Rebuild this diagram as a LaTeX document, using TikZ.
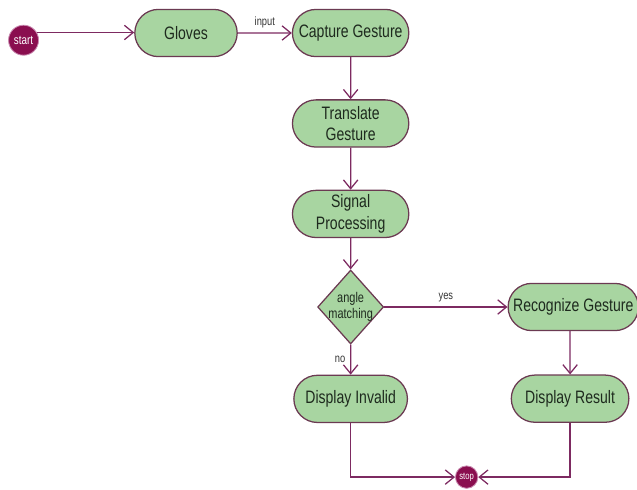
\documentclass[tikz,border=0pt]{standalone}
\usepackage{fontspec}
\setmainfont{Liberation Sans}[FakeStretch=0.78]
\usetikzlibrary{shapes.geometric,shapes.misc,arrows.meta,positioning,calc}
\definecolor{GestureGreen}{HTML}{A8D5A1}
\definecolor{GestureBorder}{HTML}{6B3A52}
\definecolor{GestureArrow}{HTML}{7D2A61}
\definecolor{GestureWine}{HTML}{8A0E4F}
\definecolor{GestureRose}{HTML}{C98AB0}
\definecolor{GestureText}{HTML}{1E2A1E}
\tikzset{
    % Pill-shaped activity boxes
    activity/.style={
        rounded rectangle,
        draw=GestureBorder,
        line width=0.9pt,
        fill=GestureGreen,
        text=GestureText,
        minimum height=1.18cm,
        inner sep=2pt,
        align=center,
        font=\fontsize{12.8}{15.4}\selectfont
    },
    decision/.style={
        diamond,
        draw=GestureBorder,
        line width=0.9pt,
        fill=GestureGreen,
        text=GestureText,
        minimum width=1.65cm,
        minimum height=1.85cm,
        aspect=0.9,
        inner sep=-1.5pt,
        align=center,
        font=\fontsize{10}{11}\selectfont
    },
    terminal/.style={
        circle,
        draw=GestureRose,
        line width=0.6pt,
        fill=GestureWine,
        text=white,
        inner sep=0pt
    },
    arrow/.style={
        -{Straight Barb[length=2.2mm,width=3.6mm]},
        line width=0.9pt,
        color=GestureArrow
    },
    edge label/.style={
        font=\fontsize{8.5}{10}\selectfont,
        text=black!80
    }
}
\begin{document}
\begin{tikzpicture}[node distance=1.05cm and 1.35cm]
    \useasboundingbox (0,0) rectangle (15.925,-12.225);
    % Nodes
    \node[activity, minimum width=2.7cm] (gloves) at (4.65,-0.825) {Gloves};
    \node[terminal, minimum size=0.75cm, left=2.38cm of gloves, yshift=-0.18cm, font=\fontsize{9}{10}\selectfont] (start) {start};
    \node[activity, minimum width=3.05cm, right=of gloves] (capture) {Capture Gesture};
    \node[activity, minimum width=3.05cm, below=of capture] (translate) {Translate\\Gesture};
    \node[activity, minimum width=3.05cm, below=of translate] (signal) {Signal\\Processing};
    \node[decision, below=0.78cm of signal] (match) {angle\\matching};
    \node[activity, minimum width=3.4cm, right=3.08cm of match] (recognize) {Recognize Gesture};
    \node[activity, minimum width=2.98cm, below=0.75cm of match] (invalid) {Display Invalid};
    \node[activity, minimum width=3.08cm, below=1.08cm of recognize, xshift=-0.08cm] (result) {Display Result};
    \node[terminal, minimum size=0.56cm, font=\fontsize{7}{8}\selectfont] (stop) at ($(invalid.south)+(2.9,-1.35)$) {stop};

    % Arrows
    \draw[arrow] (start.30) -- (start.30 -| gloves.west);
    \draw[arrow] (gloves) -- node[edge label, above] {input} (capture);
    \draw[arrow] (capture) -- (translate);
    \draw[arrow] (translate) -- (signal);
    \draw[arrow] (signal) -- (match);
    \draw[arrow] (match) -- node[edge label, above] {yes} (recognize);
    \draw[arrow] (match) -- node[edge label, left] {no} (invalid);
    \draw[arrow] (recognize.south -| result) -- (result);
    \draw[arrow] (invalid) |- (stop);
    \draw[arrow] (result) |- (stop);
\end{tikzpicture}
\end{document}
